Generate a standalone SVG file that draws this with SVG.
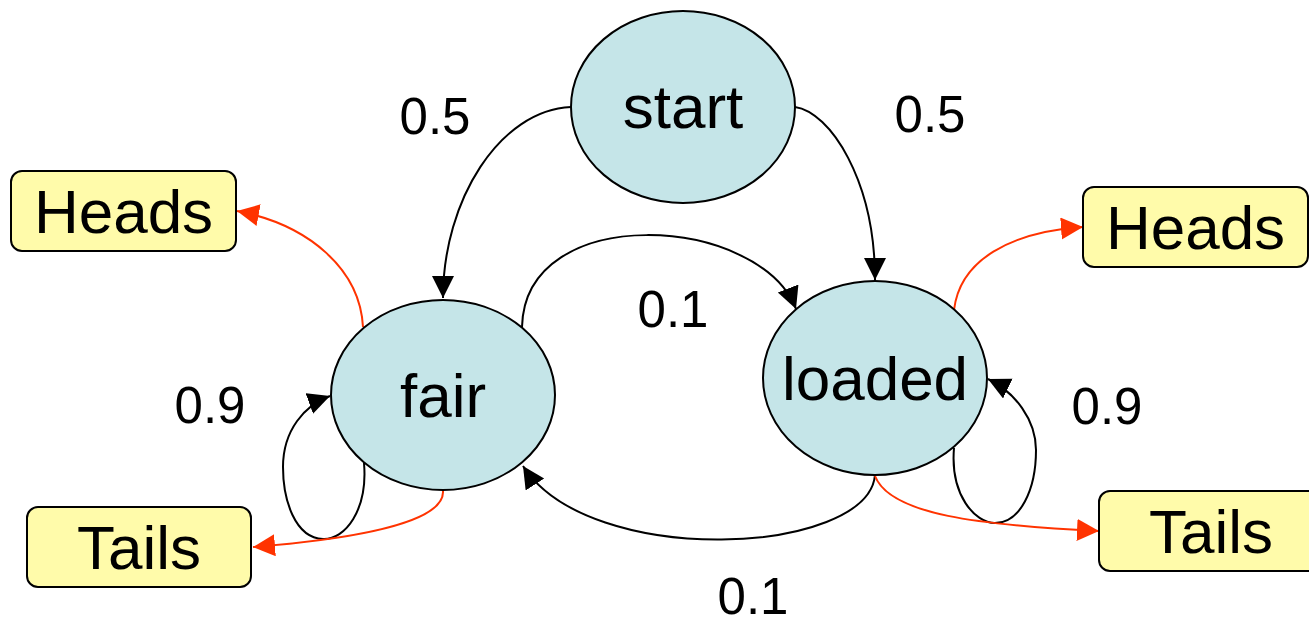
<svg xmlns="http://www.w3.org/2000/svg" width="1309" height="623" viewBox="0 0 1309 623">
  <defs>
    <style>
      .state { fill: #c5e5e8; stroke: #000; stroke-width: 2; }
      .obs { fill: #fffbaa; stroke: #000; stroke-width: 2; }
      .lbl { font-family: "Liberation Sans", Arial, sans-serif; fill: #000; text-anchor: middle; }
      .big { font-size: 62px; }
      .prob { font-size: 51px; }
      .edge { fill: none; stroke: #000; stroke-width: 2; marker-end: url(#arrowBlack); }
      .emit { fill: none; stroke: #ff3300; stroke-width: 2; marker-end: url(#arrowRed); }
    </style>
    <marker id="arrowBlack" markerUnits="userSpaceOnUse" markerWidth="24" markerHeight="24" refX="22" refY="11" orient="auto">
      <path d="M0,0 L22,11 L0,22 z" fill="#000"/>
    </marker>
    <marker id="arrowRed" markerUnits="userSpaceOnUse" markerWidth="24" markerHeight="24" refX="22" refY="11" orient="auto">
      <path d="M0,0 L22,11 L0,22 z" fill="#ff3300"/>
    </marker>
  </defs>
  <rect width="1309" height="623" fill="#fff"/>

  <!-- transitions and emissions -->
  <g id="connectors">
    <path class="edge" d="M571,107 C500,110 443,200 443,298"/>
    <path class="edge" d="M795,107 C830,112 875,180 875,280"/>
    <path class="edge" d="M522,327 C525,200 760,215 796,309"/>
    <path class="edge" d="M875,475 C868,555 590,570 523,466"/>
    <path class="edge" d="M364,463 C368,510 345,540 323,539 C295,538 283,500 283,467 C283,430 305,405 330,396"/>
    <path class="edge" d="M954,448 C950,495 975,523 995,523 C1020,523 1036,490 1036,450 C1036,420 1015,392 988,379"/>
    <path class="emit" d="M363,327 C360,270 310,225 237,211"/>
    <path class="emit" d="M443,491 C445,525 340,540 253,547"/>
    <path class="emit" d="M954,310 C960,260 1010,232 1083,227"/>
    <path class="emit" d="M875,476 C890,515 980,525 1099,531"/>
  </g>

  <!-- transition probabilities -->
  <g id="labels">
    <text class="lbl prob" x="435" y="134">0.5</text>
    <text class="lbl prob" x="930" y="132">0.5</text>
    <text class="lbl prob" x="673" y="327">0.1</text>
    <text class="lbl prob" x="753" y="614">0.1</text>
    <text class="lbl prob" x="210" y="423">0.9</text>
    <text class="lbl prob" x="1107" y="424">0.9</text>
  </g>

  <g id="start">
    <ellipse class="state" cx="683" cy="107" rx="112" ry="96"/>
    <text class="lbl big" x="683" y="128">start</text>
  </g>
  <g id="fair">
    <ellipse class="state" cx="443" cy="395" rx="112" ry="95"/>
    <text class="lbl big" x="443" y="417">fair</text>
  </g>
  <g id="loaded">
    <ellipse class="state" cx="875" cy="378" rx="112" ry="97"/>
    <text class="lbl big" x="875" y="400">loaded</text>
  </g>
  <g id="heads-fair">
    <rect class="obs" x="11" y="171" width="225" height="80" rx="11"/>
    <text class="lbl big" x="123.5" y="233">Heads</text>
  </g>
  <g id="tails-fair">
    <rect class="obs" x="27" y="507" width="224" height="80" rx="11"/>
    <text class="lbl big" x="139" y="569">Tails</text>
  </g>
  <g id="heads-loaded">
    <rect class="obs" x="1083" y="187" width="225" height="80" rx="11"/>
    <text class="lbl big" x="1195.5" y="249">Heads</text>
  </g>
  <g id="tails-loaded">
    <rect class="obs" x="1099" y="491" width="224" height="80" rx="11"/>
    <text class="lbl big" x="1211" y="553">Tails</text>
  </g>
</svg>
